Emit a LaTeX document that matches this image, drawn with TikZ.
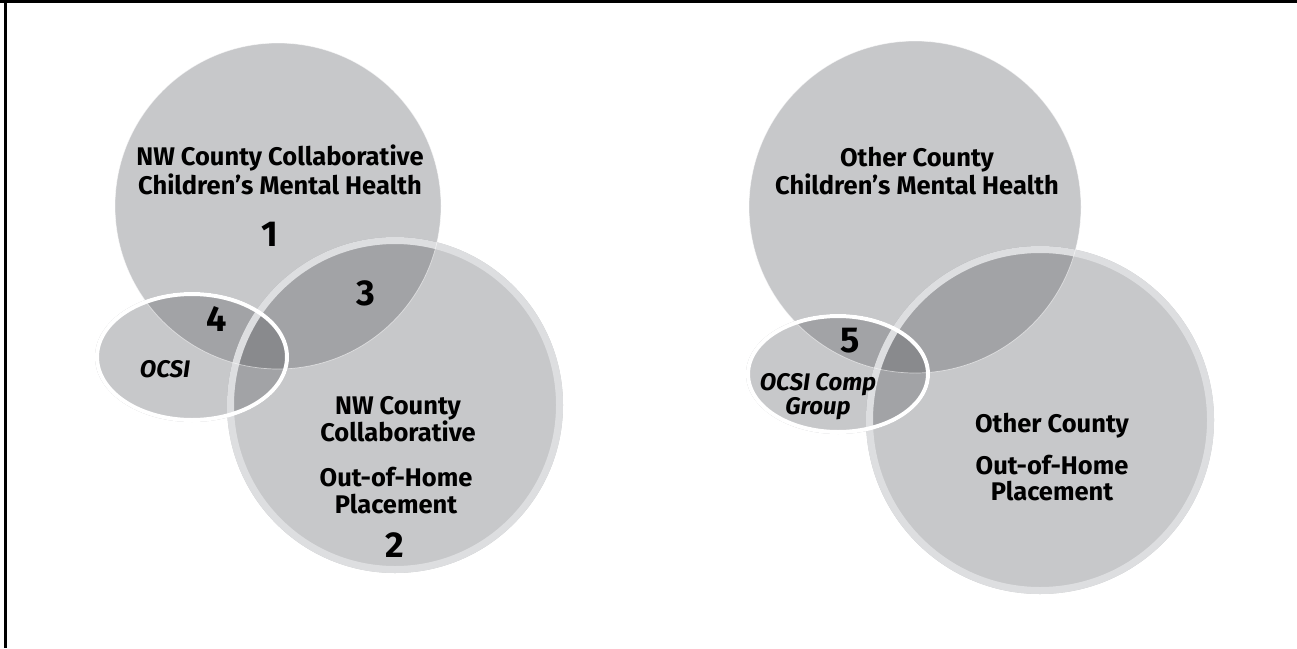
\documentclass[tikz,border=0pt]{standalone}
\usepackage{fontspec}
\setmainfont{Fira Sans}
\definecolor{baseGray}{RGB}{199,200,202}
\definecolor{ringGray}{RGB}{221,222,224}
\definecolor{pairGray}{RGB}{162,163,166}
\definecolor{tripleGray}{RGB}{137,138,141}
\tikzset{
  lbl/.style={font=\bfseries\fontsize{25.5}{28}\selectfont, anchor=base, inner sep=0pt},
  numlbl/.style={font=\bfseries\fontsize{36}{36}\selectfont, anchor=base, inner sep=0pt},
  itlbl/.style={font=\bfseries\itshape\fontsize{24}{28}\selectfont, anchor=base, inner sep=0pt},
  ring/.style={draw=ringGray, line width=7pt},
  hairline/.style={draw=white, draw opacity=0.55, line width=0.7pt},
  ovalrim/.style={draw=white, line width=4pt},
  frame/.style={draw=black, line width=3.4pt}
}
\begin{document}
\begin{tikzpicture}[x=1pt,y=-1pt]
\useasboundingbox (0,0) rectangle (1297,648);

% ---------------- left group ----------------
\fill[baseGray] (278,206) circle (163);
\fill[baseGray] (192,357) ellipse [x radius=97, y radius=65];
\fill[baseGray] (395,405) circle (168);
\begin{scope}
  \clip (278,206) circle (163);
  \fill[pairGray] (192,357) ellipse [x radius=97, y radius=65];
  \fill[pairGray] (395,405) circle (168);
\end{scope}
\begin{scope}
  \clip (192,357) ellipse [x radius=97, y radius=65];
  \fill[pairGray] (395,405) circle (168);
\end{scope}
\begin{scope}
  \clip (278,206) circle (163);
  \clip (192,357) ellipse [x radius=97, y radius=65];
  \fill[tripleGray] (395,405) circle (168);
\end{scope}
\path[ring] (395,405) circle (164.5);
\path[hairline] (278,206) circle (163);
\path[ovalrim] (192,357) ellipse [x radius=95, y radius=63];

% ---------------- right group ----------------
\fill[baseGray] (915,207) circle (166);
\fill[baseGray] (838,374) ellipse [x radius=92, y radius=60];
\fill[baseGray] (1040,420) circle (174);
\begin{scope}
  \clip (915,207) circle (166);
  \fill[pairGray] (838,374) ellipse [x radius=92, y radius=60];
  \fill[pairGray] (1040,420) circle (174);
\end{scope}
\begin{scope}
  \clip (838,374) ellipse [x radius=92, y radius=60];
  \fill[pairGray] (1040,420) circle (174);
\end{scope}
\begin{scope}
  \clip (915,207) circle (166);
  \clip (838,374) ellipse [x radius=92, y radius=60];
  \fill[tripleGray] (1040,420) circle (174);
\end{scope}
\path[ring] (1040,420) circle (170.5);
\path[hairline] (915,207) circle (166);
\path[ovalrim] (838,374) ellipse [x radius=90, y radius=58];

% ---------------- frame ----------------
\path[frame] (0,1.7) -- (1297,1.7);
\path[frame] (5.3,0) -- (5.3,648);

% ---------------- labels, left ----------------
\node[lbl] (lcmhA) at (280,165) {NW County Collaborative};
\node[lbl] (lcmhB) at (280,194) {Children’s Mental Health};
\node[numlbl] (n1) at (270,246) {1};
\node[numlbl] (n3) at (366,305) {3};
\node[numlbl] (n4) at (217,331) {4};
\node[itlbl] (locsi) at (165,377) {OCSI};
\node[lbl] (loohA) at (398,414) {NW County};
\node[lbl] (loohB) at (398,441) {Collaborative};
\node[lbl] (loohC) at (396,486) {Out-of-Home};
\node[lbl] (loohD) at (396,513) {Placement};
\node[numlbl] (n2) at (395,557) {2};

% ---------------- labels, right ----------------
\node[lbl] (rcmhA) at (917,166) {Other County};
\node[lbl] (rcmhB) at (917,194) {Children’s Mental Health};
\node[numlbl] (n5) at (850,352) {5};
\node[itlbl] (rocsiA) at (818,390) {OCSI Comp};
\node[itlbl] (rocsiB) at (818,414) {Group};
\node[lbl] (roohA) at (1052,432) {Other County};
\node[lbl] (roohB) at (1052,474) {Out-of-Home};
\node[lbl] (roohC) at (1052,500) {Placement};
\end{tikzpicture}
\end{document}
